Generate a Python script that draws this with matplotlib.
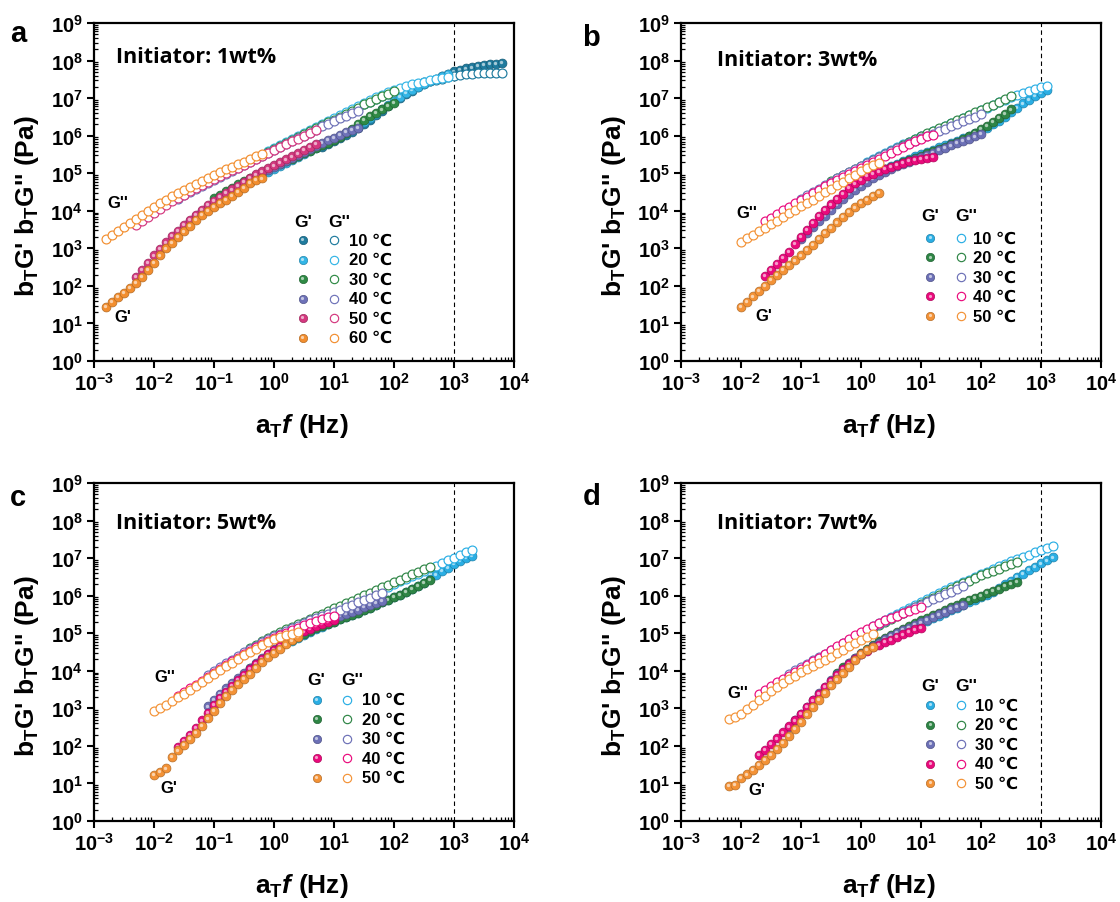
import numpy as np
import matplotlib.pyplot as plt
import matplotlib.transforms as mtransforms
from matplotlib.colors import to_rgb
from matplotlib.ticker import LogLocator

plt.rcParams['font.family'] = ['Liberation Sans', 'DejaVu Sans']
plt.rcParams['font.weight'] = 'bold'
plt.rcParams['axes.labelweight'] = 'bold'
plt.rcParams['mathtext.fontset'] = 'custom'
plt.rcParams['mathtext.rm'] = 'Liberation Sans:bold'
plt.rcParams['mathtext.it'] = 'Liberation Sans:italic:bold'
plt.rcParams['mathtext.bf'] = 'Liberation Sans:bold'
plt.rcParams['mathtext.default'] = 'rm'

# raw sweep frequencies (Hz), shifted by a_T for every temperature
freq_hz = [0.1, 0.126, 0.158, 0.2, 0.251, 0.316, 0.398, 0.501, 0.631, 0.794,
           1.0, 1.26, 1.58, 2.0, 2.51, 3.16, 3.98, 5.01, 6.31, 7.94,
           10.0, 12.6, 15.8, 20.0, 25.1, 31.6, 39.8, 50.1, 63.1, 79.4, 100.0]

# ---- panel a : initiator 1 wt%  (moduli as log10 Pa)
a_temps = [10, 20, 30, 40, 50, 60]
a_shift = [63.1, 7.94, 1.0, 0.251, 0.0501, 0.0158]
a_gp = [
    [5.70, 5.78, 5.86, 5.94, 6.02, 6.11, 6.21, 6.32, 6.43, 6.54, 6.66, 6.78, 6.90, 7.01, 7.11, 7.20,
     7.29, 7.37, 7.45, 7.52, 7.59, 7.65, 7.71, 7.75, 7.79, 7.82, 7.85, 7.88, 7.90, 7.92, 7.94],
    [5.02, 5.10, 5.18, 5.26, 5.34, 5.42, 5.50, 5.58, 5.66, 5.74, 5.82, 5.90, 5.98, 6.06, 6.15, 6.25,
     6.36, 6.47, 6.58, 6.70, 6.82, 6.93, 7.04, 7.13, 7.22, 7.30, 7.38, 7.45, 7.52, 7.58, 7.64],
    [4.33, 4.43, 4.53, 4.62, 4.71, 4.80, 4.88, 4.96, 5.04, 5.11, 5.18, 5.25, 5.32, 5.39, 5.46, 5.53,
     5.60, 5.67, 5.74, 5.81, 5.88, 5.96, 6.06, 6.18, 6.31, 6.42, 6.52, 6.61, 6.70, 6.79, 6.88],
    [3.42, 3.57, 3.72, 3.86, 3.99, 4.11, 4.22, 4.33, 4.43, 4.53, 4.63, 4.73, 4.83, 4.92, 5.00, 5.08,
     5.16, 5.24, 5.32, 5.40, 5.48, 5.56, 5.64, 5.72, 5.80, 5.88, 5.95, 6.02, 6.09, 6.15, 6.21],
    [2.25, 2.43, 2.62, 2.81, 2.99, 3.16, 3.32, 3.47, 3.62, 3.76, 3.90, 4.03, 4.15, 4.26, 4.37, 4.47,
     4.57, 4.67, 4.77, 4.87, 4.97, 5.05, 5.13, 5.21, 5.29, 5.37, 5.45, 5.53, 5.61, 5.69, 5.77],
    [1.45, 1.58, 1.70, 1.82, 1.95, 2.08, 2.25, 2.43, 2.62, 2.81, 3.00, 3.15, 3.30, 3.45, 3.60, 3.75,
     3.88, 4.00, 4.10, 4.20, 4.30, 4.40, 4.50, 4.62, 4.74, 4.82, 4.86],
]
a_gpp = [
    [6.28, 6.36, 6.44, 6.52, 6.60, 6.68, 6.76, 6.84, 6.91, 6.98, 7.05, 7.12, 7.18, 7.24, 7.29, 7.34,
     7.38, 7.42, 7.46, 7.49, 7.52, 7.55, 7.59, 7.62, 7.64, 7.65, 7.66, 7.66, 7.66, 7.66, 7.66],
    [5.60, 5.68, 5.76, 5.84, 5.92, 6.00, 6.08, 6.16, 6.24, 6.32, 6.40, 6.48, 6.56, 6.64, 6.72, 6.80,
     6.88, 6.95, 7.02, 7.09, 7.16, 7.22, 7.28, 7.33, 7.37, 7.41, 7.44, 7.47, 7.50, 7.53, 7.56],
    [4.85, 4.93, 5.01, 5.09, 5.17, 5.25, 5.33, 5.41, 5.49, 5.57, 5.65, 5.73, 5.81, 5.89, 5.97, 6.05,
     6.13, 6.21, 6.29, 6.36, 6.43, 6.50, 6.58, 6.66, 6.75, 6.84, 6.91, 6.98, 7.05, 7.12, 7.19],
    [4.32, 4.41, 4.50, 4.59, 4.67, 4.75, 4.83, 4.91, 4.99, 5.07, 5.15, 5.23, 5.31, 5.39, 5.47, 5.55,
     5.63, 5.71, 5.79, 5.86, 5.93, 6.00, 6.08, 6.15, 6.25, 6.32, 6.39, 6.46, 6.53, 6.60, 6.67],
    [3.63, 3.73, 3.84, 3.94, 4.05, 4.15, 4.25, 4.34, 4.43, 4.52, 4.60, 4.68, 4.76, 4.84, 4.92, 5.00,
     5.08, 5.15, 5.23, 5.31, 5.39, 5.47, 5.55, 5.62, 5.70, 5.77, 5.85, 5.92, 6.00, 6.07, 6.14],
    [3.25, 3.36, 3.47, 3.57, 3.68, 3.78, 3.88, 3.99, 4.09, 4.20, 4.30, 4.39, 4.48, 4.56, 4.64, 4.72,
     4.80, 4.87, 4.95, 5.02, 5.10, 5.17, 5.24, 5.31, 5.38, 5.45, 5.51],
]

# ---- panel b : initiator 3 wt%
b_temps = [10, 20, 30, 40, 50]
b_shift = [12.6, 3.16, 1.0, 0.251, 0.1]
b_gp = [
    [4.85, 4.94, 5.02, 5.10, 5.18, 5.25, 5.32, 5.39, 5.45, 5.51, 5.57, 5.63, 5.69, 5.75, 5.81, 5.87,
     5.93, 5.99, 6.06, 6.13, 6.21, 6.30, 6.40, 6.51, 6.62, 6.74, 6.86, 6.96, 7.05, 7.13, 7.22],
    [4.12, 4.26, 4.40, 4.53, 4.65, 4.76, 4.86, 4.95, 5.03, 5.10, 5.17, 5.23, 5.29, 5.35, 5.41, 5.47,
     5.53, 5.59, 5.65, 5.71, 5.77, 5.84, 5.91, 5.98, 6.07, 6.17, 6.27, 6.37, 6.47, 6.58, 6.70],
    [3.24, 3.40, 3.56, 3.72, 3.87, 4.02, 4.17, 4.31, 4.44, 4.56, 4.67, 4.77, 4.86, 4.95, 5.03, 5.11,
     5.18, 5.25, 5.31, 5.37, 5.43, 5.49, 5.55, 5.61, 5.67, 5.74, 5.80, 5.86, 5.92, 5.98, 6.04],
    [2.26, 2.42, 2.58, 2.74, 2.90, 3.11, 3.30, 3.50, 3.68, 3.86, 4.02, 4.17, 4.31, 4.45, 4.60, 4.73,
     4.83, 4.92, 4.99, 5.05, 5.11, 5.17, 5.23, 5.28, 5.32, 5.35, 5.38, 5.40, 5.43],
    [1.45, 1.58, 1.72, 1.86, 2.00, 2.15, 2.29, 2.42, 2.55, 2.68, 2.81, 2.95, 3.10, 3.25, 3.40, 3.55,
     3.69, 3.83, 3.96, 4.09, 4.20, 4.30, 4.39, 4.47],
]
b_gpp = [
    [5.30, 5.38, 5.46, 5.54, 5.62, 5.70, 5.77, 5.84, 5.91, 5.98, 6.05, 6.12, 6.19, 6.26, 6.33, 6.40,
     6.47, 6.54, 6.61, 6.68, 6.75, 6.82, 6.89, 6.96, 7.02, 7.08, 7.14, 7.19, 7.24, 7.29, 7.33],
    [4.80, 4.88, 4.96, 5.04, 5.12, 5.20, 5.28, 5.36, 5.44, 5.52, 5.60, 5.68, 5.76, 5.84, 5.92, 5.99,
     6.06, 6.13, 6.20, 6.27, 6.34, 6.41, 6.48, 6.55, 6.62, 6.68, 6.76, 6.83, 6.91, 6.99, 7.06],
    [4.32, 4.41, 4.50, 4.59, 4.68, 4.77, 4.86, 4.94, 5.02, 5.10, 5.18, 5.26, 5.34, 5.42, 5.50, 5.58,
     5.66, 5.73, 5.80, 5.87, 5.93, 5.99, 6.05, 6.12, 6.19, 6.26, 6.32, 6.39, 6.45, 6.51, 6.57],
    [3.72, 3.82, 3.92, 4.02, 4.11, 4.20, 4.29, 4.38, 4.47, 4.56, 4.65, 4.74, 4.83, 4.91, 4.99, 5.07,
     5.15, 5.23, 5.31, 5.39, 5.47, 5.55, 5.63, 5.71, 5.78, 5.85, 5.92, 5.98, 6.03],
    [3.18, 3.27, 3.36, 3.46, 3.55, 3.65, 3.74, 3.83, 3.93, 4.02, 4.12, 4.21, 4.30, 4.40, 4.49, 4.59,
     4.68, 4.77, 4.87, 4.96, 5.05, 5.13, 5.21, 5.28],
]

# ---- panel c : initiator 5 wt%
c_temps = [10, 20, 30, 40, 50]
c_shift = [20.0, 3.98, 0.794, 0.251, 0.1]
c_gp = [
    [4.80, 4.88, 4.96, 5.03, 5.10, 5.17, 5.24, 5.31, 5.37, 5.43, 5.49, 5.55, 5.61, 5.68, 5.75, 5.82,
     5.89, 5.96, 6.03, 6.11, 6.19, 6.27, 6.35, 6.45, 6.56, 6.66, 6.75, 6.84, 6.92, 7.00, 7.06],
    [4.07, 4.19, 4.31, 4.42, 4.53, 4.63, 4.73, 4.82, 4.91, 4.99, 5.06, 5.13, 5.19, 5.25, 5.31, 5.37,
     5.43, 5.49, 5.55, 5.61, 5.68, 5.75, 5.82, 5.89, 5.96, 6.03, 6.11, 6.19, 6.27, 6.35, 6.43],
    [3.05, 3.22, 3.38, 3.53, 3.67, 3.81, 3.95, 4.08, 4.21, 4.34, 4.46, 4.58, 4.69, 4.80, 4.90, 4.99,
     5.07, 5.14, 5.21, 5.27, 5.33, 5.39, 5.45, 5.51, 5.57, 5.63, 5.69, 5.75, 5.80, 5.85],
    [1.98, 2.13, 2.30, 2.48, 2.68, 2.88, 3.08, 3.27, 3.44, 3.60, 3.75, 3.90, 4.04, 4.18, 4.32, 4.45,
     4.56, 4.67, 4.78, 4.88, 4.97, 5.05, 5.12, 5.19, 5.25, 5.30, 5.35],
    [1.22, 1.30, 1.40, 1.70, 1.88, 2.02, 2.18, 2.35, 2.54, 2.73, 2.93, 3.14, 3.32, 3.49, 3.64, 3.78,
     3.92, 4.08, 4.23, 4.37, 4.47, 4.58, 4.70, 4.81, 4.91],
]
c_gpp = [
    [5.12, 5.19, 5.26, 5.33, 5.40, 5.47, 5.54, 5.61, 5.68, 5.75, 5.82, 5.89, 5.96, 6.03, 6.10, 6.17,
     6.24, 6.31, 6.38, 6.45, 6.52, 6.59, 6.66, 6.73, 6.80, 6.87, 6.94, 7.01, 7.08, 7.15, 7.22],
    [4.60, 4.69, 4.78, 4.86, 4.94, 5.02, 5.10, 5.17, 5.24, 5.31, 5.38, 5.45, 5.52, 5.59, 5.66, 5.73,
     5.80, 5.87, 5.94, 6.01, 6.08, 6.15, 6.22, 6.29, 6.36, 6.43, 6.50, 6.57, 6.64, 6.71, 6.77],
    [3.90, 4.00, 4.10, 4.20, 4.30, 4.40, 4.49, 4.58, 4.67, 4.76, 4.84, 4.92, 4.99, 5.06, 5.13, 5.20,
     5.27, 5.34, 5.41, 5.47, 5.52, 5.56, 5.62, 5.69, 5.76, 5.83, 5.89, 5.95, 6.01, 6.07],
    [3.33, 3.43, 3.53, 3.63, 3.73, 3.84, 3.95, 4.05, 4.15, 4.25, 4.35, 4.44, 4.53, 4.62, 4.71, 4.80,
     4.87, 4.94, 5.01, 5.08, 5.15, 5.21, 5.27, 5.32, 5.37, 5.42, 5.46],
    [2.92, 3.01, 3.10, 3.20, 3.29, 3.39, 3.49, 3.60, 3.70, 3.81, 3.92, 4.02, 4.12, 4.22, 4.32, 4.41,
     4.50, 4.59, 4.68, 4.77, 4.84, 4.90, 4.95, 4.99, 5.03],
]

# ---- panel d : initiator 7 wt%
d_temps = [10, 20, 30, 40, 50]
d_shift = [15.8, 3.98, 0.631, 0.2, 0.0631]
d_gp = [
    [4.66, 4.74, 4.82, 4.90, 4.98, 5.05, 5.12, 5.19, 5.26, 5.33, 5.40, 5.47, 5.54, 5.61, 5.68, 5.75,
     5.82, 5.89, 5.96, 6.03, 6.10, 6.20, 6.30, 6.40, 6.50, 6.59, 6.68, 6.77, 6.86, 6.94, 7.02],
    [3.95, 4.09, 4.22, 4.35, 4.47, 4.58, 4.68, 4.78, 4.87, 4.96, 5.04, 5.12, 5.20, 5.27, 5.34, 5.41,
     5.48, 5.55, 5.62, 5.69, 5.76, 5.82, 5.88, 5.94, 6.00, 6.07, 6.13, 6.19, 6.25, 6.31, 6.36],
    [2.50, 2.68, 2.86, 3.04, 3.22, 3.40, 3.58, 3.75, 3.91, 4.06, 4.20, 4.33, 4.45, 4.56, 4.66, 4.75,
     4.84, 4.92, 5.00, 5.08, 5.15, 5.22, 5.29, 5.36, 5.43, 5.50, 5.57, 5.64, 5.70, 5.75],
    [1.76, 1.90, 2.05, 2.20, 2.36, 2.52, 2.68, 2.85, 3.03, 3.21, 3.39, 3.57, 3.74, 3.90, 4.05, 4.19,
     4.32, 4.44, 4.54, 4.62, 4.69, 4.76, 4.83, 4.90, 4.97, 5.04, 5.10, 5.15],
    [0.94, 0.96, 1.14, 1.24, 1.36, 1.49, 1.62, 1.76, 1.93, 2.09, 2.27, 2.45, 2.64, 2.84, 3.03, 3.22,
     3.42, 3.61, 3.77, 3.93, 4.10, 4.28, 4.44, 4.55, 4.62],
]
d_gpp = [
    [5.18, 5.26, 5.34, 5.42, 5.50, 5.58, 5.66, 5.74, 5.82, 5.90, 5.98, 6.06, 6.14, 6.22, 6.29, 6.36,
     6.43, 6.50, 6.57, 6.64, 6.71, 6.78, 6.85, 6.91, 6.97, 7.03, 7.09, 7.15, 7.21, 7.27, 7.33],
    [4.60, 4.69, 4.78, 4.87, 4.96, 5.05, 5.14, 5.23, 5.31, 5.39, 5.47, 5.55, 5.63, 5.71, 5.79, 5.87,
     5.95, 6.03, 6.11, 6.19, 6.26, 6.33, 6.40, 6.47, 6.54, 6.60, 6.66, 6.72, 6.78, 6.84, 6.89],
    [3.92, 4.01, 4.10, 4.19, 4.28, 4.37, 4.46, 4.55, 4.64, 4.73, 4.82, 4.91, 5.00, 5.08, 5.16, 5.24,
     5.32, 5.40, 5.48, 5.55, 5.62, 5.69, 5.76, 5.83, 5.90, 5.97, 6.04, 6.11, 6.18, 6.25],
    [3.39, 3.49, 3.59, 3.69, 3.78, 3.87, 3.96, 4.05, 4.15, 4.25, 4.35, 4.45, 4.55, 4.65, 4.75, 4.85,
     4.94, 5.03, 5.11, 5.19, 5.27, 5.34, 5.41, 5.47, 5.53, 5.59, 5.64, 5.69],
    [2.71, 2.78, 2.86, 2.98, 3.10, 3.22, 3.34, 3.45, 3.57, 3.68, 3.78, 3.87, 3.96, 4.05, 4.13, 4.21,
     4.30, 4.38, 4.47, 4.56, 4.65, 4.74, 4.82, 4.90, 4.97],
]

colors_a = {10: '#1f7b9e', 20: '#33b5e6', 30: '#2f8a45', 40: '#6e72b8', 50: '#d4387f', 60: '#f28e2f'}
colors_b = {10: '#2aaee4', 20: '#2e8545', 30: '#6c70b6', 40: '#ea0a7c', 50: '#f39236'}


def darker(c, f=0.75):
    r, g, b = to_rgb(c)
    return (r * f, g * f, b * f)


def ball(ax, x, y, c, z, transform=None, ms=6.4):
    # filled "sphere" marker: coloured disc + small light highlight
    tr = transform if transform is not None else ax.transData
    ax.plot(x, y, ls='none', marker='o', ms=ms, mfc=c, mec=darker(c), mew=0.5,
            zorder=z, transform=tr, clip_on=False)
    hl = mtransforms.offset_copy(tr, fig=ax.figure, x=-0.5, y=0.6, units='points')
    ax.plot(x, y, ls='none', marker='o', ms=ms * 0.38, mfc='white', mec='none',
            alpha=0.6, zorder=z + 0.01, transform=hl, clip_on=False)


def ring(ax, x, y, c, z, transform=None, ms=6.4):
    tr = transform if transform is not None else ax.transData
    ax.plot(x, y, ls='none', marker='o', ms=ms, mfc='white', mec=c, mew=0.85,
            zorder=z, transform=tr, clip_on=False)


def panel(ax, temps, shift, gp, gpp, colors, title, leg, notes):
    for i, T in enumerate(temps):
        n = len(gp[i])
        x = shift[i] * np.array(freq_hz[:n])
        z = 3 + i
        ball(ax, x, 10 ** np.array(gp[i]), colors[T], z)
        ring(ax, x, 10 ** np.array(gpp[i]), colors[T], z + 0.5)

    ax.set_xscale('log')
    ax.set_yscale('log')
    ax.set_xlim(1e-3, 1e4)
    ax.set_ylim(1e0, 1e9)
    ax.xaxis.set_major_locator(LogLocator(base=10, numticks=20))
    ax.yaxis.set_major_locator(LogLocator(base=10, numticks=20))
    ax.xaxis.set_minor_locator(LogLocator(base=10, subs=np.arange(2, 10), numticks=20))
    ax.yaxis.set_minor_locator(LogLocator(base=10, subs=np.arange(2, 10), numticks=20))
    ax.tick_params(which='major', direction='out', length=5, width=1.5, labelsize=14.5, pad=3)
    ax.tick_params(which='minor', direction='in', length=3, width=0.9)
    ax.tick_params(top=False, right=False, which='both')
    for s in ax.spines.values():
        s.set_linewidth(1.6)

    ax.axvline(1e3, color='black', lw=0.8, ls=(0, (4, 3)), zorder=1)

    ax.set_xlabel(r'a$_\mathregular{T}$$\mathit{f}$ (Hz)', fontsize=19)
    ax.set_ylabel(r"b$_\mathregular{T}$G' b$_\mathregular{T}$G'' (Pa)", fontsize=19)
    ax.xaxis.set_label_coords(0.495, -0.148)
    ax.yaxis.set_label_coords(-0.126, 0.46)

    ax.text(title[1], title[2], title[0], transform=ax.transAxes, fontsize=15.5,
            family=['Open Sans', 'DejaVu Sans'], fontweight='bold', ha='left', va='center')

    # two-column G' / G'' legend
    x1, x2, xt, yh, y0, dy = leg
    ax.text(x1, yh, "G'", transform=ax.transAxes, fontsize=12.5, ha='center', va='center')
    ax.text(x2 + 0.012, yh, "G''", transform=ax.transAxes, fontsize=12.5, ha='center', va='center')
    for k, T in enumerate(temps):
        y = y0 - k * dy
        ball(ax, [x1], [y], colors[T], 20, transform=ax.transAxes, ms=6)
        ring(ax, [x2], [y], colors[T], 20, transform=ax.transAxes, ms=6)
        ax.text(xt, y, f'{T} ℃', transform=ax.transAxes, fontsize=12, ha='left', va='center')

    (gx2, gy2), (gx1, gy1) = notes
    ax.text(gx2, gy2, "G''", fontsize=12, ha='center', va='center')
    ax.text(gx1, gy1, "G'", fontsize=12, ha='center', va='center')


fig = plt.figure(figsize=(11.2, 9.03), dpi=100)
w, h = 0.375, 0.3743
ax_a = fig.add_axes([0.0839, 0.5991, w, h])
ax_b = fig.add_axes([0.6078, 0.5991, w, h])
ax_c = fig.add_axes([0.0839, 0.0897, w, h])
ax_d = fig.add_axes([0.6078, 0.0897, w, h])

panel(ax_a, a_temps, a_shift, a_gp, a_gpp, colors_a,
      ('Initiator: 1wt%', 0.052, 0.90),
      (0.498, 0.572, 0.607, 0.414, 0.358, 0.0577),
      ((2.5e-3, 1.7e4), (3.0e-3, 1.5e1)))
panel(ax_b, b_temps, b_shift, b_gp, b_gpp, colors_b,
      ('Initiator: 3wt%', 0.087, 0.893),
      (0.594, 0.667, 0.695, 0.43, 0.364, 0.0577),
      ((1.26e-2, 8.9e3), (2.4e-2, 1.6e1)))
panel(ax_c, c_temps, c_shift, c_gp, c_gpp, colors_b,
      ('Initiator: 5wt%', 0.052, 0.884),
      (0.530, 0.602, 0.637, 0.42, 0.359, 0.0577),
      ((1.5e-2, 7.2e3), (1.75e-2, 8.0e0)))
panel(ax_d, d_temps, d_shift, d_gp, d_gpp, colors_b,
      ('Initiator: 7wt%', 0.087, 0.884),
      (0.594, 0.667, 0.700, 0.40, 0.343, 0.0577),
      ((9.1e-3, 2.6e3), (1.86e-2, 7.1e0)))

for lbl, x, y in [('a', 0.016, 0.962), ('b', 0.528, 0.958), ('c', 0.016, 0.449), ('d', 0.528, 0.450)]:
    fig.text(x, y, lbl, fontsize=21, fontweight='bold', ha='center', va='center')

fig.savefig('out.png', dpi=100)
